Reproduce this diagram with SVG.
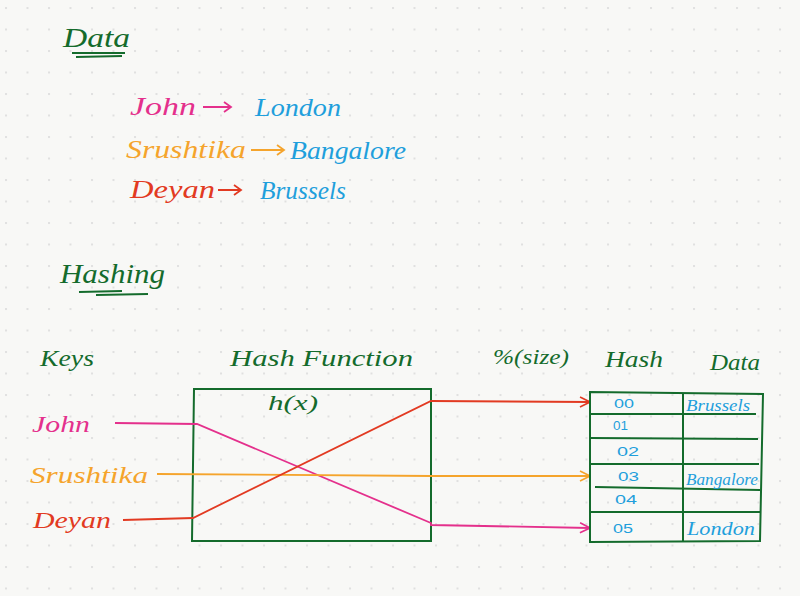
<svg xmlns="http://www.w3.org/2000/svg" width="800" height="596" viewBox="0 0 800 596">
<defs>
<pattern id="dots" x="4" y="6" width="21.5" height="21.5" patternUnits="userSpaceOnUse">
<circle cx="2" cy="2" r="1.1" fill="#dcdcdc"/>
</pattern>
<marker id="ahR" viewBox="0 0 12 12" refX="11" refY="6" markerWidth="12" markerHeight="12" markerUnits="userSpaceOnUse" orient="auto"><path d="M1,1 L11,6 L1,11" fill="none" stroke="#e23a22" stroke-width="1.6"/></marker>
<marker id="ahO" viewBox="0 0 12 12" refX="11" refY="6" markerWidth="12" markerHeight="12" markerUnits="userSpaceOnUse" orient="auto"><path d="M1,1 L11,6 L1,11" fill="none" stroke="#f5a42c" stroke-width="1.6"/></marker>
<marker id="ahP" viewBox="0 0 12 12" refX="11" refY="6" markerWidth="12" markerHeight="12" markerUnits="userSpaceOnUse" orient="auto"><path d="M1,1 L11,6 L1,11" fill="none" stroke="#e4308c" stroke-width="1.6"/></marker>
</defs>
<style>
text{font-family:"Liberation Serif",serif;font-style:italic}
.g{fill:#146b2c}
.p{fill:#e4308c}
.o{fill:#f5a42c}
.r{fill:#e23a22}
.b{fill:#1f9fdc}
.box{fill:none;stroke:#146b2c;stroke-width:2}
.ul{stroke:#146b2c;stroke-width:1.8;fill:none}
.num{font-family:"Liberation Sans",sans-serif;font-style:normal;fill:#1f9fdc;font-size:13px}
</style>
<rect width="800" height="596" fill="#f8f8f6"/>
<rect width="800" height="596" fill="url(#dots)"/>

<g id="title-data">
<text class="g" x="63" y="47" font-size="28" textLength="67" lengthAdjust="spacingAndGlyphs">Data</text>
<path class="ul" d="M72,53 L125,53 M76,57 L122,56"/>
</g>
<g id="data-john">
<text class="p" x="130" y="115" font-size="26" textLength="66" lengthAdjust="spacingAndGlyphs">John</text>
<path d="M203,107 L231,107 M224,102 L231,107 L224,112" fill="none" stroke="#e4308c" stroke-width="1.8"/>
<text class="b" x="255" y="116" font-size="26" textLength="86" lengthAdjust="spacingAndGlyphs">London</text>
</g>
<g id="data-srushtika">
<text class="o" x="126" y="158" font-size="26" textLength="120" lengthAdjust="spacingAndGlyphs">Srushtika</text>
<path d="M251,150 L284,150 M277,145 L284,150 L277,155" fill="none" stroke="#f5a42c" stroke-width="1.8"/>
<text class="b" x="290" y="159" font-size="26" textLength="116" lengthAdjust="spacingAndGlyphs">Bangalore</text>
</g>
<g id="data-deyan">
<text class="r" x="130" y="198" font-size="26" textLength="85" lengthAdjust="spacingAndGlyphs">Deyan</text>
<path d="M218,190 L241,190 M234,185 L241,190 L234,195" fill="none" stroke="#e23a22" stroke-width="1.8"/>
<text class="b" x="260" y="199" font-size="26" textLength="86" lengthAdjust="spacingAndGlyphs">Brussels</text>
</g>

<g id="title-hashing">
<text class="g" x="60" y="283" font-size="28" textLength="105" lengthAdjust="spacingAndGlyphs">Hashing</text>
<path class="ul" d="M79,292 L122,291 M96,295 L148,294"/>
</g>

<g id="labels">
<text class="g" x="40" y="366" font-size="24" textLength="54" lengthAdjust="spacingAndGlyphs">Keys</text>
<text class="g" x="230" y="366" font-size="24" textLength="183" lengthAdjust="spacingAndGlyphs">Hash Function</text>
<text class="g" x="493" y="364" font-size="22" textLength="76" lengthAdjust="spacingAndGlyphs">%(size)</text>
<text class="g" x="605" y="367" font-size="24" textLength="58" lengthAdjust="spacingAndGlyphs">Hash</text>
<text class="g" x="710" y="370" font-size="24" textLength="50" lengthAdjust="spacingAndGlyphs">Data</text>
</g>

<g id="key-john"><text class="p" x="32" y="432" font-size="24" textLength="58" lengthAdjust="spacingAndGlyphs">John</text></g>
<g id="key-srushtika"><text class="o" x="30" y="483" font-size="24" textLength="118" lengthAdjust="spacingAndGlyphs">Srushtika</text></g>
<g id="key-deyan"><text class="r" x="33" y="528" font-size="24" textLength="78" lengthAdjust="spacingAndGlyphs">Deyan</text></g>

<g id="hash-function">
<path class="box" d="M194,389 L431,389 L431,541 L192,541 Z"/>
<text class="g" x="268" y="410" font-size="20" textLength="50" lengthAdjust="spacingAndGlyphs">h(x)</text>
</g>

<g id="connectors" fill="none" stroke-width="1.8">
<path d="M115,423 L197,424 L431,523 L431,525 L590,528" stroke="#e4308c" marker-end="url(#ahP)"/>
<path d="M157,474 L431,476 L590,476" stroke="#f5a42c" marker-end="url(#ahO)"/>
<path d="M123,520 L193,518 L431,401 L590,402" stroke="#e23a22" marker-end="url(#ahR)"/>
</g>

<g id="hash-table">
<path class="box" d="M590,392 L763,394 L760,541 L590,542 Z"/>
<path class="box" d="M683,393 L683,541"/>
<path class="box" d="M590,414 L756,414 M590,438 L758,439 M590,464 L759,464 M595,487 L760,490 M590,512 L760,512"/>
</g>
<g id="row-00"><text class="num" x="614" y="408" textLength="20" lengthAdjust="spacingAndGlyphs">00</text><text class="b" x="686" y="411" font-size="17" textLength="64" lengthAdjust="spacingAndGlyphs">Brussels</text></g>
<g id="row-01"><text class="num" x="613" y="430" textLength="15" lengthAdjust="spacingAndGlyphs">01</text></g>
<g id="row-02"><text class="num" x="617" y="456" textLength="22" lengthAdjust="spacingAndGlyphs">02</text></g>
<g id="row-03"><text class="num" x="618" y="481" textLength="21" lengthAdjust="spacingAndGlyphs">03</text><text class="b" x="686" y="485" font-size="17" textLength="72" lengthAdjust="spacingAndGlyphs">Bangalore</text></g>
<g id="row-04"><text class="num" x="615" y="504" textLength="22" lengthAdjust="spacingAndGlyphs">04</text></g>
<g id="row-05"><text class="num" x="613" y="533" textLength="20" lengthAdjust="spacingAndGlyphs">05</text><text class="b" x="687" y="535" font-size="18" textLength="68" lengthAdjust="spacingAndGlyphs">London</text></g>
</svg>
